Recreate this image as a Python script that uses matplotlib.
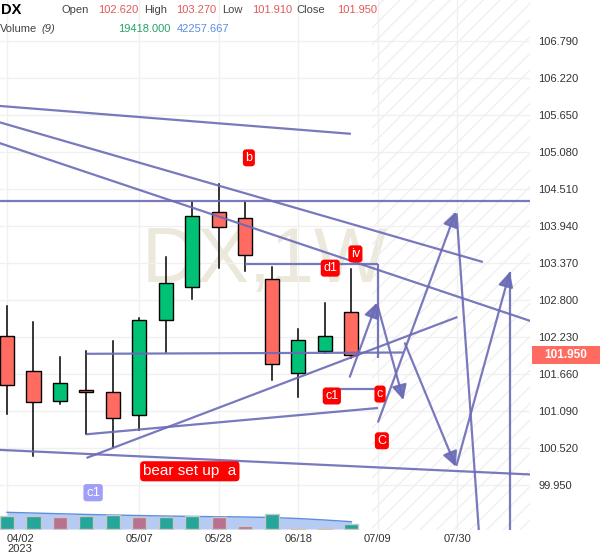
import matplotlib
matplotlib.use("Agg")
import matplotlib.pyplot as plt
import matplotlib.transforms as mtransforms
from matplotlib.patches import Rectangle
import numpy as np

plt.rcParams['font.family'] = ['Liberation Sans', 'DejaVu Sans']

# weekly candles, x = week index from 04/02/2023
opens = [102.24, 101.70, 101.25, 101.42, 101.38, 101.02, 102.49, 103.00, 104.15, 104.07, 103.12, 101.67, 102.02, 102.62]
highs = [102.71, 102.46, 101.92, 102.01, 102.16, 102.52, 103.46, 104.31, 104.59, 104.31, 103.31, 102.35, 102.75, 103.27]
lows = [101.05, 100.39, 101.19, 100.73, 100.54, 100.80, 102.00, 102.81, 103.29, 103.24, 101.57, 101.31, 101.98, 101.91]
closes = [101.49, 101.22, 101.52, 101.38, 100.98, 102.49, 103.06, 104.10, 103.92, 103.50, 101.81, 102.19, 102.25, 101.95]

volumes = [49300, 49300, 46600, 49300, 55700, 46600, 47900, 49300, 45300, 10400, 59600, 3900, 3900, 19418]
vol_up = [1, 1, 0, 1, 1, 0, 1, 1, 0, 0, 1, 0, 0, 1]
vol_ma = [64900, 62100, 59400, 56700, 54400, 52400, 50500, 48900, 47800, 46600, 44700, 40800, 35000, 28400]

xtick_pos = [0, 5, 8, 11, 14, 17]
xtick_labels = ["04/02\n2023", "05/07", "05/28", "06/18", "07/09", "07/30"]
ytick_vals = [106.79, 106.22, 105.65, 105.08, 104.51, 103.94, 103.37, 102.80, 102.23, 101.66, 101.09, 100.52, 99.95]

# drawings: (x0, p0, x1, p1)
trend_lines = [
    (-0.3, 105.79, 12.98, 105.36),
    (-0.3, 105.54, 17.96, 103.385),
    (-0.3, 105.22, 19.8, 102.47),
    (-0.3, 104.32, 19.8, 104.32),
    (-0.3, 100.49, 19.8, 100.11),
    (3.0, 101.97, 14.94, 101.99),
    (3.0, 100.73, 14.0, 101.135),
    (3.0, 100.365, 17.0, 102.537),
    (9.0, 103.35, 14.0, 103.35),
    (14.0, 103.35, 14.0, 101.906),
    (12.0, 101.43, 14.0, 101.43),
    (16.97, 104.135, 17.85, 99.0),
    (18.98, 103.235, 18.98, 99.0),
]
arrows = [
    (12.94, 101.617, 13.96, 102.758),
    (14.0, 102.696, 14.96, 101.258),
    (14.01, 100.924, 16.94, 104.16),
    (15.02, 102.132, 16.94, 100.231),
    (16.97, 100.257, 18.98, 103.235),
]
wave_labels = [
    ("b", 9.13, 104.99),
    ("iv", 13.15, 103.51),
    ("d1", 12.2, 103.29),
    ("c1", 12.26, 101.32),
    ("c", 14.08, 101.35),
    ("C", 14.15, 100.63),
    ("bear set up  a", 6.9, 100.16),
]

GREEN = '#00c176'
RED = '#ff6b61'
LINE = '#6a6ab6'

fig = plt.figure(figsize=(6, 5.58), dpi=100)
ax = fig.add_axes([0, 28 / 558, 530 / 600, 530 / 558])
ax.set_xlim(-0.264, 19.74)
ax.set_ylim(99.255, 107.422)
for s in ax.spines.values():
    s.set_visible(False)

# watermark
ax.text(9.74, 103.39, "DX,1W", fontsize=56, color='#ece8dc', ha='center', va='center', zorder=0)

# grid
for p in ytick_vals:
    ax.axhline(p, color='#f0f0f0', lw=1, zorder=0.5)
for x in xtick_pos:
    ax.axvline(x, color='#f0f0f0', lw=1, zorder=0.5)

# future hatch region
plt.rcParams['hatch.linewidth'] = 0.8
ax.axvspan(13.77, 20, facecolor='none', edgecolor='#ededed', hatch='//', lw=0, zorder=0.6)

# candles
for i in range(len(opens)):
    up = closes[i] >= opens[i]
    col = GREEN if up else RED
    ax.plot([i, i], [lows[i], highs[i]], color='black', lw=1.1, zorder=2)
    bottom = min(opens[i], closes[i])
    h = max(abs(closes[i] - opens[i]), 0.03)
    ax.bar(i, h, bottom=bottom, width=0.53, color=col, edgecolor='black', lw=1.0, zorder=3)

# drawings
for x0, p0, x1, p1 in trend_lines:
    ax.plot([x0, x1], [p0, p1], color=LINE, lw=1.6, alpha=0.9, zorder=4, solid_capstyle='butt')
for x0, p0, x1, p1 in arrows:
    ax.annotate("", xy=(x1, p1), xytext=(x0, p0),
                arrowprops=dict(arrowstyle='-|>,head_length=0.9,head_width=0.45', color=LINE,
                                lw=1.6, alpha=0.9, shrinkA=0, shrinkB=0), zorder=4)

for txt, x, p in wave_labels:
    fs = 11 if len(txt) > 3 else 9
    ax.text(x, p, txt, color='white', fontsize=fs, ha='center', va='center', zorder=6,
            bbox=dict(boxstyle='round,pad=0.2,rounding_size=0.25', fc='#ff0000', ec='none'))
ax.text(3.25, 99.83, "c1", color='white', fontsize=9.5, ha='center', va='center', zorder=6,
        bbox=dict(boxstyle='round,pad=0.2,rounding_size=0.25', fc='#a09ef7', ec='none'))

# volume overlay
axv = fig.add_axes(ax.get_position(), sharex=ax)
axv.set_ylim(-3884, 530 * 3884)
axv.patch.set_alpha(0)
axv.axis('off')
xs = np.arange(len(volumes))
axv.fill_between(xs, 0, vol_ma, color='#b6cbf3', lw=0, zorder=1)
axv.plot(xs, vol_ma, color='#5b8de0', lw=1, zorder=2)
vcols = ['#26a69a' if u else '#b8728f' for u in vol_up]
axv.bar(xs, volumes, width=0.53, color=vcols, edgecolor='#c8c8c8', lw=1, zorder=3)

# axes ticks
ax.set_yticks(ytick_vals)
ax.set_yticklabels([f"{v:.3f}" for v in ytick_vals])
ax.yaxis.tick_right()
ax.tick_params(axis='y', length=0, pad=6, labelsize=8, labelcolor='#333333')
ax.set_xticks([])
trans = mtransforms.blended_transform_factory(ax.transData, ax.transAxes)
for x, lab in zip(xtick_pos, xtick_labels):
    ax.text(x, -0.008, lab, transform=trans, ha='left' if x == 0 else 'center', va='top',
            fontsize=8, color='#333333', linespacing=0.95)

# last price tag
tag_trans = mtransforms.blended_transform_factory(fig.transFigure, ax.transData)
ax.add_patch(Rectangle((532 / 600, closes[-1] - 0.14), 68 / 600, 0.28, transform=tag_trans,
                       fc=RED, ec='none', clip_on=False, zorder=7))
ax.text(566 / 600, closes[-1], f"{closes[-1]:.3f}", transform=tag_trans, ha='center', va='center',
        fontsize=8.5, color='white', fontweight='bold', zorder=8, clip_on=False)

# header
def ftxt(x, y, s, **kw):
    fig.text(x / 600, 1 - y / 558, s, va='center', ha='left', **kw)

ftxt(1, 10, "DX", fontsize=10.5, fontweight='bold', color='black')
ftxt(62, 10, "Open", fontsize=8, color='#444444')
ftxt(98, 10, "102.620", fontsize=8, color='#e05a5a')
ftxt(144, 10, "High", fontsize=8, color='#444444')
ftxt(176, 10, "103.270", fontsize=8, color='#e05a5a')
ftxt(222, 10, "Low", fontsize=8, color='#444444')
ftxt(252, 10, "101.910", fontsize=8, color='#e05a5a')
ftxt(296, 10, "Close", fontsize=8, color='#444444')
ftxt(337, 10, "101.950", fontsize=8, color='#e05a5a')
ftxt(0, 29, "Volume", fontsize=8, color='#444444')
ftxt(41, 29, "(9)", fontsize=8, color='#444444', style='italic')
ftxt(118, 29, "19418.000", fontsize=8, color='#26a269')
ftxt(177, 29, "42257.667", fontsize=8, color='#5b8ee6')

fig.savefig("out.png", dpi=100)
